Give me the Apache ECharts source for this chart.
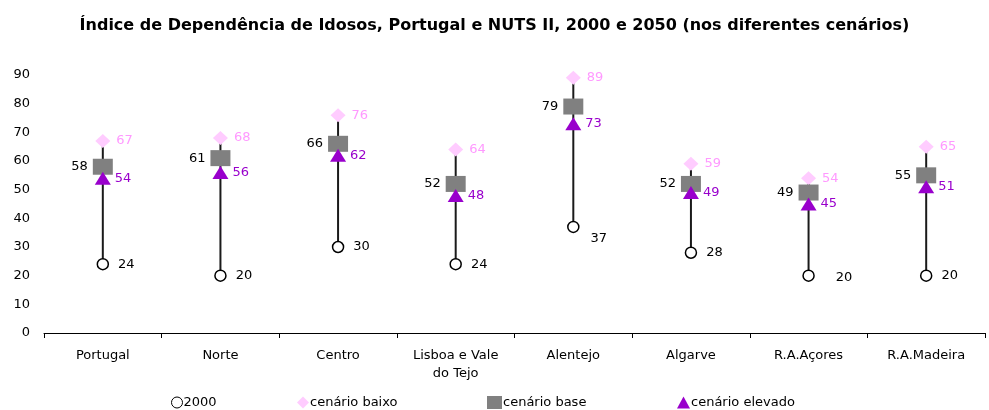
<!DOCTYPE html>
<html>
<head>
<meta charset="utf-8">
<script src="https://cdn.jsdelivr.net/npm/echarts@6/dist/echarts.min.js"></script>
<style>
  html, body { margin: 0; padding: 0; background: #fff; }
  #chart { width: 989px; height: 410px; }
</style>
</head>
<body>
<div id="chart"></div>
<script>
const regions = ['Portugal', 'Norte', 'Centro', 'Lisboa e Vale\ndo Tejo', 'Alentejo', 'Algarve', 'R.A.Açores', 'R.A.Madeira']
const y2000 = [24, 20, 30, 24, 37, 28, 20, 20]
const cenBaixo = [67, 68, 76, 64, 89, 59, 54, 65]
const cenBase = [58, 61, 66, 52, 79, 52, 49, 55]
const cenElevado = [54, 56, 62, 48, 73, 49, 45, 51]
const yTicks = [0, 10, 20, 30, 40, 50, 60, 70, 80, 90]
const seriesNames = ['2000', 'cenário baixo', 'cenário base', 'cenário elevado']

const font = 'DejaVu Sans, Verdana, sans-serif'
const chart = echarts.init(document.getElementById('chart'))

// label nudges for a couple of points that sit off the usual spot
const labelNudge = { 4: [2, 12], 6: [12, 2] }

// one legend box per item so each sits where the original has it
const legendLeft = [166, 292, 482, 672]
const legendIcon = ['circle', 'diamond', 'rect', 'triangle']
const legendSize = [[11, 11], [12, 12], [15, 13], [13, 12]]
const legends = seriesNames.map((name, i) => ({
  left: legendLeft[i],
  top: 391,
  itemWidth: legendSize[i][0],
  itemHeight: legendSize[i][1],
  textStyle: { fontFamily: font, fontSize: 13, color: '#000', padding: [0, 0, 0, -4] },
  data: [i === 0
    ? { name, icon: legendIcon[i], itemStyle: { color: '#fff', borderColor: '#000', borderWidth: 1 } }
    : { name, icon: legendIcon[i] }],
}))

chart.setOption({
  backgroundColor: '#fff',
  animation: false,
  title: {
    text: 'Índice de Dependência de Idosos, Portugal e NUTS II, 2000 e 2050 (nos diferentes cenários)',
    left: 'center',
    top: 13,
    textStyle: { fontFamily: font, fontSize: 16, fontWeight: 'bold', color: '#000' },
  },
  legend: legends,
  grid: { left: 44, right: 4, top: 75, bottom: 77 },
  xAxis: {
    type: 'category',
    data: regions,
    axisLine: { lineStyle: { color: '#000', width: 1 } },
    axisTick: { show: true, length: 5, lineStyle: { color: '#000' } },
    axisLabel: { color: '#000', fontFamily: font, fontSize: 13, interval: 0, margin: 14, lineHeight: 18 },
  },
  yAxis: {
    type: 'value',
    min: yTicks[0],
    max: yTicks[yTicks.length - 1],
    interval: 10,
    axisLine: { show: false },
    axisTick: { show: false },
    splitLine: { show: false },
    axisLabel: { color: '#000', fontFamily: font, fontSize: 13, margin: 14 },
  },
  series: [
    {
      type: 'custom',
      name: 'linhas',
      z: 1,
      silent: true,
      data: y2000.map((v, i) => [i, v, cenBaixo[i]]),
      renderItem: (params, api) => {
        const p1 = api.coord([api.value(0), api.value(1)])
        const p2 = api.coord([api.value(0), api.value(2)])
        return {
          type: 'line',
          shape: { x1: p1[0], y1: p1[1] - 5, x2: p2[0], y2: p2[1] },
          style: { stroke: '#1a1a1a', lineWidth: 2 },
        }
      },
    },
    {
      type: 'scatter',
      name: seriesNames[0],
      z: 3,
      symbol: 'circle',
      symbolSize: 11,
      itemStyle: { color: '#fff', borderColor: '#000', borderWidth: 1.5, opacity: 1 },
      data: y2000.map((v, i) => labelNudge[i] ? { value: v, label: { offset: labelNudge[i] } } : v),
      label: { show: true, position: 'right', distance: 9, color: '#000', fontFamily: font, fontSize: 13 },
    },
    {
      type: 'scatter',
      name: seriesNames[1],
      z: 3,
      symbol: 'diamond',
      symbolSize: [15, 14],
      itemStyle: { color: '#ffccff', opacity: 1 },
      data: cenBaixo,
      label: { show: true, position: 'right', distance: 6, color: '#ff99ff', fontFamily: font, fontSize: 13 },
    },
    {
      type: 'scatter',
      name: seriesNames[2],
      z: 4,
      symbol: 'rect',
      symbolSize: [20, 16],
      itemStyle: { color: '#808080', opacity: 1 },
      data: cenBase,
      label: { show: true, position: 'left', distance: 5, color: '#000', fontFamily: font, fontSize: 13 },
    },
    {
      type: 'scatter',
      name: seriesNames[3],
      z: 5,
      symbol: 'triangle',
      symbolSize: [16, 13],
      itemStyle: { color: '#9900cc', opacity: 1 },
      data: cenElevado,
      label: { show: true, position: 'right', distance: 4, color: '#9900cc', fontFamily: font, fontSize: 13 },
    },
  ],
})
</script>
</body>
</html>
